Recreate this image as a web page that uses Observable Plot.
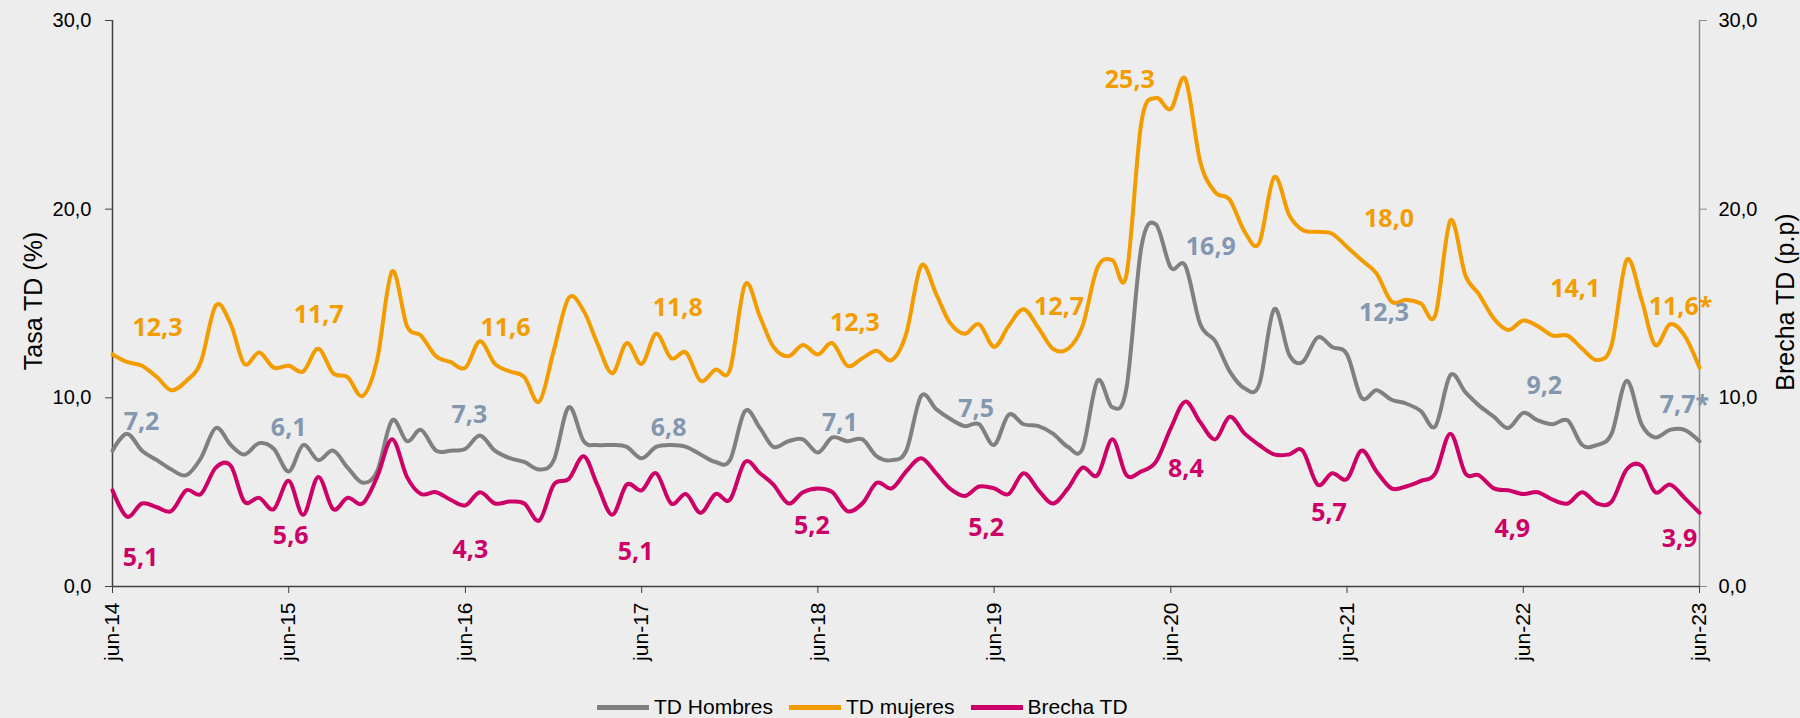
<!DOCTYPE html>
<html>
<head>
<meta charset="utf-8">
<script src="https://cdn.jsdelivr.net/npm/d3@7"></script>
<script src="https://cdn.jsdelivr.net/npm/@observablehq/plot@0.6"></script>
<style>
  html, body { margin: 0; padding: 0; background: #ededed; }
  #wrap { position: relative; width: 1800px; height: 718px; overflow: hidden; background: #ededed;
          font-family: "Liberation Sans", Arial, sans-serif; color: #000; }
  #chart { position: absolute; left: 0; top: 0; }
  .ytitle { position: absolute; font-size: 25px; white-space: nowrap;
            transform: translate(-50%, -50%) rotate(-90deg); }
  #legend { position: absolute; left: 597px; top: 694px; height: 26px; display: flex; align-items: center; font-size: 21px; }
  .item { display: flex; align-items: center; margin-right: 16px; }
  .sw { width: 52px; height: 5px; margin-right: 5px; }
</style>
</head>
<body>
<div id="wrap">
  <div id="chart"></div>
  <div class="ytitle" style="left:33px; top:301px;">Tasa TD (%)</div>
  <div class="ytitle" style="left:1785px; top:302px;">Brecha TD (p.p)</div>
  <div id="legend"></div>
</div>
<script>
// ---------------- DATA ----------------
// Monthly series, jun-14 ... jun-23 (109 months)
const tdHombres = [
  7.2, 8.1, 7.2, 6.7, 6.2, 5.9, 6.8, 8.4, 7.5, 7.0, 7.6, 7.3,
  6.1, 7.5, 6.7, 7.2, 6.3, 5.5, 6.1, 8.8, 7.7, 8.3, 7.2, 7.2,
  7.3, 8.0, 7.2, 6.8, 6.6, 6.2, 6.7, 9.5, 7.7, 7.5, 7.5, 7.4,
  6.8, 7.4, 7.5, 7.4, 7.0, 6.6, 6.7, 9.3, 8.4, 7.4, 7.7, 7.8,
  7.1, 7.9, 7.7, 7.8, 6.9, 6.7, 7.2, 10.1, 9.4, 8.9, 8.5, 8.6,
  7.5, 9.1, 8.6, 8.5, 8.1, 7.4, 7.3, 10.9, 9.5, 10.5, 18.0, 19.2,
  16.9, 17.0, 13.9, 13.0, 11.4, 10.5, 10.7, 14.7, 12.3, 11.9, 13.2, 12.7,
  12.3, 10.0, 10.4, 9.9, 9.7, 9.3, 8.5, 11.2, 10.3, 9.6, 9.0, 8.4,
  9.2, 8.8, 8.6, 8.8, 7.5, 7.5, 8.1, 10.9, 8.6, 7.9, 8.3, 8.3,
  7.7
];
const tdMujeres = [
  12.3, 11.9, 11.7, 11.1, 10.4, 10.9, 11.9, 14.9, 13.9, 11.8, 12.4, 11.6,
  11.7, 11.4, 12.6, 11.3, 11.1, 10.1, 12.0, 16.7, 13.8, 13.3, 12.2, 11.9,
  11.6, 13.0, 11.8, 11.4, 11.1, 9.8, 12.5, 15.3, 14.6, 12.9, 11.3, 12.9,
  11.8, 13.4, 12.1, 12.4, 10.9, 11.5, 11.5, 16.0, 14.3, 12.7, 12.2, 12.8,
  12.3, 12.9, 11.7, 12.1, 12.5, 12.0, 13.4, 17.0, 15.5, 14.0, 13.4, 13.9,
  12.7, 13.8, 14.7, 13.7, 12.6, 12.6, 13.8, 16.9, 17.3, 16.5, 24.6, 25.9,
  25.3, 26.9, 22.5, 20.9, 20.5, 18.8, 18.2, 21.7, 19.7, 18.9, 18.8, 18.7,
  18.0, 17.3, 16.6, 15.1, 15.2, 15.0, 14.4, 19.4, 16.5, 15.5, 14.2, 13.6,
  14.1, 13.8, 13.3, 13.3, 12.6, 12.0, 12.8, 17.3, 15.2, 12.8, 13.9, 13.3,
  11.6
];
const brechaTD = [
  5.1, 3.7, 4.4, 4.2, 4.0, 5.1, 4.9, 6.3, 6.4, 4.5, 4.7, 4.1,
  5.6, 3.8, 5.8, 4.1, 4.7, 4.4, 5.8, 7.8, 5.8, 4.9, 5.0, 4.6,
  4.3, 5.0, 4.4, 4.5, 4.4, 3.5, 5.4, 5.7, 6.9, 5.4, 3.8, 5.4,
  5.1, 6.0, 4.4, 4.9, 3.9, 4.9, 4.6, 6.6, 6.0, 5.4, 4.4, 5.0,
  5.2, 5.0, 4.0, 4.4, 5.5, 5.2, 6.1, 6.8, 6.0, 5.2, 4.8, 5.3,
  5.2, 4.9, 6.0, 5.1, 4.4, 5.2, 6.3, 5.9, 7.8, 5.9, 6.1, 6.6,
  8.4, 9.8, 8.7, 7.8, 9.0, 8.1, 7.5, 7.0, 7.0, 7.2, 5.4, 6.0,
  5.7, 7.2, 6.1, 5.2, 5.3, 5.6, 6.0, 8.1, 6.0, 5.9, 5.2, 5.1,
  4.9, 5.0, 4.6, 4.4, 5.0, 4.4, 4.5, 6.2, 6.4, 5.0, 5.4, 4.7,
  3.9
];

const seriesNames = ["TD Hombres", "TD mujeres", "Brecha TD"];
const tickLabels = ["jun-14", "jun-15", "jun-16", "jun-17", "jun-18", "jun-19", "jun-20", "jun-21", "jun-22", "jun-23"];
const yTicks = [0, 10, 20, 30];

// June annotations (value labels)
const mujeresLabels = ["12,3", "11,7", "11,6", "11,8", "12,3", "12,7", "25,3", "18,0", "14,1", "11,6*"];
const hombresLabels = ["7,2", "6,1", "7,3", "6,8", "7,1", "7,5", "16,9", "12,3", "9,2", "7,7*"];
const brechaLabels  = ["5,1", "5,6", "4,3", "5,1", "5,2", "5,2", "8,4", "5,7", "4,9", "3,9"];

// ---------------- LAYOUT / STYLE ----------------
const colors = { "TD Hombres": "#808080", "TD mujeres": "#f39c00", "Brecha TD": "#cc0066" };
const labelColors = { "TD Hombres": "#8497b0", "TD mujeres": "#f39c00", "Brecha TD": "#cc0066" };
// pixel nudges of each June label from its data point
const mujeresNudge = [[45,-26],[30,-51],[40,-40],[36,-56],[37,-31],[65,-40],[-41,-29],[42,-28],[52,-31],[-19,-61]];
const hombresNudge = [[29,-29],[0,-43],[4,-34],[27,-30],[22,-30],[-18,-36],[40,-21],[37,-41],[21,-27],[-15,-36]];
const brechaNudge  = [[28,68],[2,55],[5,45],[-6,62],[-6,38],[-8,40],[15,41],[-18,34],[-11,35],[-20,26]];

const months = d3.utcMonth.range(new Date(Date.UTC(2014, 5, 1)), new Date(Date.UTC(2023, 6, 1)));
const juneDates = tickLabels.map((_, i) => months[i * 12]);
const fmtY = d => d.toFixed(1).replace(".", ",");

const tableOf = (vals) => vals.map((v, i) => ({ date: months[i], v }));

function labelMarks(vals, labels, nudges, name) {
  return labels.map((t, i) => Plot.text([{ date: juneDates[i], v: vals[i * 12], t }], {
    x: "date", y: "v", text: "t",
    dx: nudges[i][0], dy: nudges[i][1],
    fill: labelColors[name], fontSize: 25, fontWeight: 700,
    fontFamily: "'Open Sans', 'Noto Sans', sans-serif", textAnchor: "middle"
  }));
}

const chart = Plot.plot({
  width: 1800, height: 680,
  marginLeft: 112, marginRight: 101, marginTop: 20, marginBottom: 94,
  style: { background: "transparent", fontFamily: "'Liberation Sans', Arial, sans-serif", fontSize: "20px", color: "#000", overflow: "visible" },
  x: { type: "utc", domain: [months[0], months[months.length - 1]] },
  y: { domain: [0, 30] },
  marks: [
    Plot.axisY({ anchor: "left", ticks: yTicks, tickFormat: fmtY, tickSize: 7, tickPadding: 14, label: null, stroke: "#404040" }),
    Plot.axisY({ anchor: "right", ticks: yTicks, tickFormat: fmtY, tickSize: 7, tickPadding: 12, label: null, stroke: "#8c8c8c" }),
    Plot.axisX({ ticks: juneDates, tickFormat: d => tickLabels[d.getUTCFullYear() - 2014], tickRotate: -90, tickSize: 7, tickPadding: 9, label: null, stroke: "#404040", fontSize: 21 }),
    Plot.ruleX([months[months.length - 1]], { stroke: "#8c8c8c", strokeWidth: 1.5 }),
    Plot.ruleX([months[0]], { stroke: "#404040", strokeWidth: 1.5 }),
    Plot.ruleY([0], { stroke: "#404040", strokeWidth: 1.5 }),
    Plot.line(tableOf(tdHombres), { x: "date", y: "v", stroke: colors["TD Hombres"], strokeWidth: 4, curve: "cardinal" }),
    Plot.line(tableOf(tdMujeres), { x: "date", y: "v", stroke: colors["TD mujeres"], strokeWidth: 4, curve: "cardinal" }),
    Plot.line(tableOf(brechaTD), { x: "date", y: "v", stroke: colors["Brecha TD"], strokeWidth: 4, curve: "cardinal" }),
    ...labelMarks(tdMujeres, mujeresLabels, mujeresNudge, "TD mujeres"),
    ...labelMarks(tdHombres, hombresLabels, hombresNudge, "TD Hombres"),
    ...labelMarks(brechaTD, brechaLabels, brechaNudge, "Brecha TD")
  ]
});
document.getElementById("chart").appendChild(chart);

const legend = document.getElementById("legend");
seriesNames.forEach(n => {
  const it = document.createElement("div"); it.className = "item";
  const sw = document.createElement("div"); sw.className = "sw"; sw.style.background = colors[n];
  const tx = document.createElement("span"); tx.textContent = n;
  it.appendChild(sw); it.appendChild(tx); legend.appendChild(it);
});
</script>
</body>
</html>
